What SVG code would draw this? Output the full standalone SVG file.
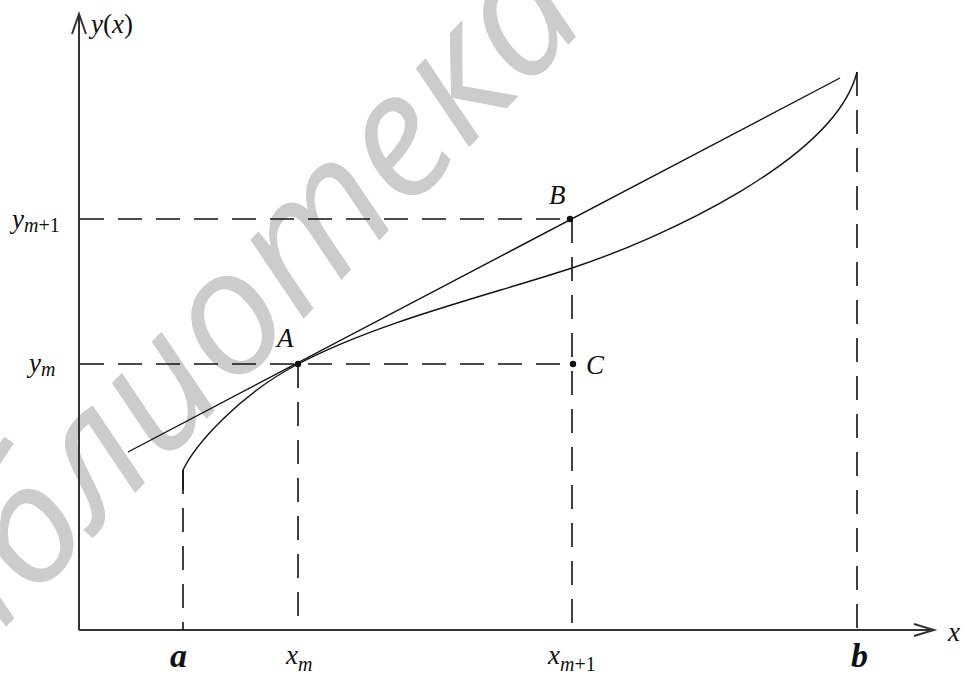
<svg xmlns="http://www.w3.org/2000/svg" width="968" height="677" viewBox="0 0 968 677">
<style>
.wm{font-family:"Open Sans","Noto Sans",sans-serif;font-style:italic;font-size:174px;fill:#cccccc}
.ax{stroke:#333;stroke-width:2;fill:none}
.ln{stroke:#111;stroke-width:1.4;fill:none}
.ds{stroke:#111;stroke-width:1.6;fill:none;stroke-dasharray:24 14}
.m{font-family:"Liberation Serif","Times New Roman",serif;font-style:italic;font-size:27px;fill:#111}
.s{font-size:20px}
.big{font-size:34px;font-weight:bold}
.up{font-style:normal}
.dot{fill:#111}
</style>
<rect width="968" height="677" fill="#fff"/>
<text class="wm" x="592" y="20" text-anchor="end" transform="rotate(-46 592 20)">Библиотека</text>
<g id="axes">
<line class="ax" x1="79" y1="630" x2="79" y2="15"/>
<polyline class="ax" points="72,34 79,14 86,34"/>
<line class="ax" x1="79" y1="630" x2="933" y2="630"/>
<polyline class="ax" points="914,624 934,630 914,636"/>
</g>
<g id="connectors">
<line class="ds" x1="80" y1="219" x2="570" y2="219"/>
<line class="ds" x1="80" y1="364" x2="573" y2="364"/>
<line class="ds" x1="183" y1="470" x2="183" y2="630"/>
<line class="ds" x1="298" y1="364" x2="298" y2="630"/>
<line class="ds" x1="572" y1="219" x2="572" y2="630"/>
<line class="ds" x1="857" y1="72" x2="857" y2="630"/>
</g>
<g id="tangent"><line class="ln" x1="128" y1="452" x2="840" y2="78"/></g>
<g id="curve"><path class="ln" d="M183,490 L183,470 C195,445 238,395.5 298,364 C380,321 490,295 572,268 C660,239 835,160 857,72"/></g>
<g id="points">
<circle class="dot" cx="298" cy="364" r="3.2"/>
<circle class="dot" cx="570" cy="219" r="3.2"/>
<circle class="dot" cx="573" cy="364" r="3.2"/>
</g>
<g id="labels">
<text class="m" x="91" y="33">y<tspan class="up">(</tspan>x<tspan class="up">)</tspan></text>
<text class="m" x="12" y="228">y<tspan class="s" dy="4">m</tspan><tspan class="s up">+1</tspan></text>
<text class="m" x="29" y="372">y<tspan class="s" dy="4">m</tspan></text>
<text class="m" x="277" y="347">A</text>
<text class="m" x="549" y="204">B</text>
<text class="m" x="586" y="374">C</text>
<text class="m big" x="170" y="667">a</text>
<text class="m" x="286" y="664">x<tspan class="s" dy="7">m</tspan></text>
<text class="m" x="548" y="664">x<tspan class="s" dy="7">m</tspan><tspan class="s up">+1</tspan></text>
<text class="m big" x="851" y="667">b</text>
<text class="m" x="948" y="641">x</text>
</g>
</svg>
